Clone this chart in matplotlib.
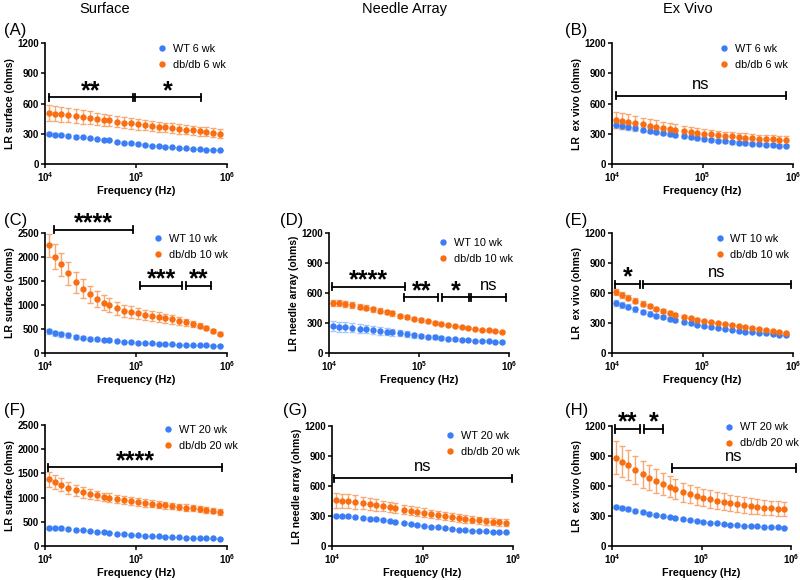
import matplotlib
matplotlib.use('Agg')
import matplotlib.pyplot as plt
from matplotlib.lines import Line2D

plt.rcParams['font.family'] = ['Liberation Sans', 'DejaVu Sans']

BLUE = '#3b7df4'
BLUE_ERR = '#a9c6f8'
ORANGE = '#fa6e12'
ORANGE_ERR = '#f8a874'

freq = [11e3, 13e3, 15e3, 18e3, 22e3, 26e3, 31e3, 37e3, 44e3, 50e3, 62e3, 74e3, 88e3,
        105e3, 125e3, 149e3, 177e3, 210e3, 250e3, 297e3, 354e3, 420e3, 500e3, 595e3, 707e3, 841e3]

# (A) surface, 6 wk
a_wt = [300, 292, 288, 280, 272, 265, 258, 248, 240, 235, 222, 212, 205, 197, 190, 183, 177, 170, 164, 160, 155, 150, 146, 142, 140, 137]
a_wt_err = [15, 14, 14, 13, 13, 12, 12, 11, 11, 11, 10, 10, 9, 9, 9, 8, 8, 8, 8, 7, 7, 7, 7, 7, 6, 6]
a_db = [504, 498, 492, 485, 475, 465, 458, 448, 440, 432, 420, 410, 402, 395, 386, 378, 370, 362, 355, 348, 340, 333, 325, 318, 310, 300]
a_db_err = [78, 75, 72, 70, 68, 66, 64, 62, 60, 58, 56, 55, 54, 53, 52, 51, 50, 49, 48, 47, 46, 46, 45, 45, 44, 44]

# (B) ex vivo, 6 wk
b_wt = [385, 375, 368, 355, 340, 330, 320, 310, 298, 290, 278, 268, 258, 250, 240, 233, 225, 218, 212, 205, 200, 195, 190, 185, 182, 178]
b_wt_err = [28, 27, 26, 25, 24, 23, 22, 21, 20, 20, 19, 18, 18, 17, 17, 16, 16, 15, 15, 15, 14, 14, 14, 13, 13, 13]
b_db = [440, 428, 420, 405, 392, 380, 370, 358, 348, 340, 328, 318, 308, 300, 293, 287, 280, 274, 268, 262, 257, 252, 248, 244, 240, 236]
b_db_err = [80, 78, 75, 72, 68, 65, 62, 58, 55, 53, 50, 48, 46, 45, 44, 43, 42, 42, 41, 41, 40, 40, 40, 40, 40, 40]

# (C) surface, 10 wk
c_wt = [450, 415, 390, 365, 335, 320, 300, 285, 270, 262, 245, 235, 225, 215, 205, 198, 190, 183, 178, 172, 168, 163, 160, 157, 153, 150]
c_wt_err = [55, 52, 50, 45, 42, 38, 35, 32, 30, 28, 26, 24, 22, 20, 19, 18, 17, 16, 15, 14, 14, 13, 13, 12, 12, 12]
c_db = [2240, 2010, 1850, 1660, 1470, 1340, 1225, 1125, 1050, 1000, 935, 875, 850, 825, 795, 770, 745, 725, 700, 670, 640, 605, 570, 520, 465, 405]
c_db_err = [245, 255, 240, 235, 220, 200, 175, 160, 150, 145, 135, 125, 120, 115, 110, 105, 100, 95, 90, 85, 75, 65, 55, 45, 40, 35]

# (D) needle array, 10 wk
d_wt = [268, 262, 258, 252, 245, 238, 230, 222, 215, 208, 198, 190, 180, 172, 165, 158, 150, 144, 138, 133, 128, 123, 120, 117, 114, 112]
d_wt_err = [50, 50, 48, 46, 44, 42, 40, 38, 35, 33, 30, 27, 25, 22, 20, 18, 16, 15, 14, 13, 12, 12, 11, 11, 10, 10]
d_db = [504, 498, 490, 478, 465, 452, 440, 425, 410, 397, 372, 358, 343, 330, 318, 305, 295, 283, 272, 262, 250, 243, 235, 228, 220, 212]
d_db_err = [30, 30, 29, 28, 27, 26, 25, 24, 23, 22, 20, 18, 17, 16, 15, 14, 13, 12, 12, 11, 11, 10, 10, 10, 10, 10]

# (E) ex vivo, 10 wk
e_wt = [500, 480, 462, 440, 412, 395, 375, 358, 340, 328, 310, 296, 282, 270, 258, 248, 238, 230, 222, 215, 208, 202, 196, 190, 185, 178]
e_wt_err = [30, 28, 26, 25, 23, 21, 20, 18, 17, 16, 15, 14, 13, 12, 12, 11, 11, 10, 10, 10, 9, 9, 9, 9, 9, 9]
e_db = [607, 580, 555, 525, 495, 470, 445, 420, 400, 385, 365, 350, 335, 322, 310, 298, 287, 277, 268, 258, 250, 240, 232, 222, 215, 200]
e_db_err = [30, 28, 26, 24, 22, 20, 18, 17, 16, 15, 14, 13, 12, 12, 11, 11, 10, 10, 10, 10, 10, 9, 9, 9, 9, 9]

# (F) surface, 20 wk
f_wt = [380, 370, 362, 350, 335, 322, 308, 295, 282, 275, 258, 245, 235, 225, 215, 205, 198, 190, 183, 177, 172, 167, 162, 158, 155, 150]
f_wt_err = [25, 24, 23, 22, 21, 20, 19, 18, 17, 16, 15, 14, 13, 12, 12, 11, 11, 10, 10, 10, 10, 9, 9, 9, 9, 9]
f_db = [1377, 1320, 1270, 1205, 1150, 1110, 1075, 1045, 1015, 1000, 965, 945, 925, 905, 885, 870, 855, 840, 825, 810, 795, 780, 765, 750, 730, 705]
f_db_err = [150, 140, 135, 125, 115, 110, 100, 95, 90, 88, 85, 82, 80, 78, 76, 74, 72, 70, 68, 66, 64, 62, 60, 58, 56, 55]

# (G) needle array, 20 wk
g_wt = [305, 300, 297, 290, 282, 275, 268, 258, 250, 243, 232, 222, 212, 205, 195, 188, 180, 172, 165, 160, 155, 150, 147, 143, 140, 137]
g_wt_err = [15, 15, 14, 14, 13, 13, 12, 12, 11, 11, 10, 10, 10, 9, 9, 9, 8, 8, 8, 8, 7, 7, 7, 7, 7, 7]
g_db = [456, 452, 448, 440, 430, 420, 410, 400, 390, 382, 365, 355, 345, 333, 320, 310, 300, 290, 280, 270, 263, 256, 250, 243, 238, 232]
g_db_err = [75, 72, 70, 67, 63, 60, 57, 54, 52, 50, 48, 46, 44, 43, 42, 41, 40, 39, 38, 37, 36, 36, 35, 35, 35, 35]

# (H) ex vivo, 20 wk
h_wt = [395, 380, 370, 355, 338, 325, 312, 298, 288, 280, 268, 258, 250, 243, 235, 228, 222, 215, 210, 205, 200, 197, 194, 191, 188, 185]
h_wt_err = [18, 17, 16, 15, 14, 13, 12, 12, 11, 11, 10, 10, 10, 9, 9, 9, 8, 8, 8, 8, 8, 8, 8, 8, 8, 8]
h_db = [884, 845, 810, 765, 720, 685, 650, 620, 592, 575, 540, 520, 500, 485, 470, 455, 445, 432, 420, 410, 400, 393, 385, 380, 375, 370]
h_db_err = [165, 155, 148, 140, 135, 128, 120, 112, 105, 100, 95, 92, 90, 88, 86, 84, 82, 80, 78, 77, 76, 75, 74, 73, 72, 72]

# significance brackets: (start Hz, end Hz, y, label)
a_sig = [(11e3, 92e3, 660, '**'), (98e3, 520e3, 660, '*')]
b_sig = [(11e3, 830e3, 676, 'ns')]
c_sig = [(12.4e3, 92e3, 2570, '****'), (112e3, 321e3, 1400, '***'), (350e3, 670e3, 1400, '**')]
d_sig = [(10.9e3, 70e3, 663, '****'), (68.6e3, 164e3, 557, '**'), (182e3, 355e3, 557, '*'), (380e3, 927e3, 557, 'ns')]
e_sig = [(10.7e3, 20.5e3, 689, '*'), (21.8e3, 955e3, 689, 'ns')]
f_sig = [(10.9e3, 889e3, 1625, '****')]
g_sig = [(10.4e3, 975e3, 678, 'ns')]
h_sig = [(10.9e3, 20.5e3, 1170, '**'), (22.9e3, 37.1e3, 1170, '*'), (46.7e3, 1.15e6, 781, 'ns')]

W, H = 800, 580


def px_axes(fig, x0, y0, x1, y1):
    return fig.add_axes([x0 / W, (H - y1) / H, (x1 - x0) / W, (y1 - y0) / H])


def panel(ax, wt, wt_err, db, db_err, age, ylabel, ymax, ystep, sigs, leg_anchor):
    ax.errorbar(freq, wt, yerr=wt_err, fmt='none', ecolor=BLUE_ERR, elinewidth=1, capsize=2.5, capthick=1, zorder=2)
    ax.errorbar(freq, db, yerr=db_err, fmt='none', ecolor=ORANGE_ERR, elinewidth=1, capsize=2.5, capthick=1, zorder=2)
    ax.plot(freq, wt, 'o', color=BLUE, ms=4.6, mec='none', zorder=3)
    ax.plot(freq, db, 'o', color=ORANGE, ms=4.6, mec='none', zorder=3)

    ax.set_xscale('log')
    ax.set_xlim(1e4, 1e6)
    ax.set_ylim(0, ymax)
    ax.set_yticks(range(0, ymax + 1, ystep))
    ax.set_xticks([1e4, 1e5, 1e6])
    ax.minorticks_off()
    for side in ['top', 'right']:
        ax.spines[side].set_visible(False)
    for side in ['left', 'bottom']:
        ax.spines[side].set_linewidth(1.2)
    ax.tick_params(length=3, width=1.1, labelsize=7, pad=1.2)
    for lab in ax.get_yticklabels() + ax.get_xticklabels():
        lab.set_fontweight('bold')
    ax.set_xlabel('Frequency (Hz)', fontsize=7.8, fontweight='bold', labelpad=1.5)
    ax.set_ylabel(ylabel, fontsize=7.5, fontweight='bold', labelpad=2)

    handles = [Line2D([], [], ls='none', marker='o', color=BLUE, ms=4.6, mec='none'),
               Line2D([], [], ls='none', marker='o', color=ORANGE, ms=4.6, mec='none')]
    ax.legend(handles, ['WT %s wk' % age, 'db/db %s wk' % age], loc='upper left',
              bbox_to_anchor=leg_anchor, frameon=False, fontsize=7.8, handlelength=1.0,
              handletextpad=0.5, labelspacing=0.55, borderpad=0, borderaxespad=0)

    cap = ymax * 0.03
    for x0, x1, y, lab in sigs:
        ax.plot([x0, x1], [y, y], color='black', lw=1.3, clip_on=False, zorder=4)
        ax.plot([x0, x0], [y - cap, y + cap], color='black', lw=1.3, clip_on=False, zorder=4)
        ax.plot([x1, x1], [y - cap, y + cap], color='black', lw=1.3, clip_on=False, zorder=4)
        xm = (x0 * x1) ** 0.5
        if lab == 'ns':
            ax.annotate(lab, (xm, y), xytext=(0, 3), textcoords='offset points',
                        ha='center', va='bottom', fontsize=12, annotation_clip=False)
        else:
            ax.annotate(lab, (xm, y), xytext=(0, -4), textcoords='offset points',
                        ha='center', va='bottom', fontsize=18, fontweight='bold', annotation_clip=False)


fig = plt.figure(figsize=(8, 5.8), dpi=100)

ax_a = px_axes(fig, 45, 43, 227, 164)
ax_b = px_axes(fig, 612, 43, 793, 164)
ax_c = px_axes(fig, 45, 233, 227, 353)
ax_d = px_axes(fig, 329, 233, 509, 353)
ax_e = px_axes(fig, 612, 233, 793, 353)
ax_f = px_axes(fig, 45, 425, 227, 546)
ax_g = px_axes(fig, 332, 426, 513, 546)
ax_h = px_axes(fig, 612, 426, 791, 546)

panel(ax_a, a_wt, a_wt_err, a_db, a_db_err, '6', 'LR surface (ohms)', 1200, 300, a_sig, (0.615, 0.99))
panel(ax_b, b_wt, b_wt_err, b_db, b_db_err, '6', 'LR  ex vivo (ohms)', 1200, 300, b_sig, (0.59, 0.99))
panel(ax_c, c_wt, c_wt_err, c_db, c_db_err, '10', 'LR surface (ohms)', 2500, 500, c_sig, (0.593, 0.99))
panel(ax_d, d_wt, d_wt_err, d_db, d_db_err, '10', 'LR needle array (ohms)', 1200, 300, d_sig, (0.606, 0.96))
panel(ax_e, e_wt, e_wt_err, e_db, e_db_err, '10', 'LR  ex vivo (ohms)', 1200, 300, e_sig, (0.564, 0.99))
panel(ax_f, f_wt, f_wt_err, f_db, f_db_err, '20', 'LR surface (ohms)', 2500, 500, f_sig, (0.648, 1.0))
panel(ax_g, g_wt, g_wt_err, g_db, g_db_err, '20', 'LR needle array (ohms)', 1200, 300, g_sig, (0.624, 0.96))
panel(ax_h, h_wt, h_wt_err, h_db, h_db_err, '20', 'LR  ex vivo (ohms)', 1200, 300, h_sig, (0.626, 1.03))

# column titles and panel letters
for x, t in [(105, 'Surface'), (405, 'Needle Array'), (688, 'Ex Vivo')]:
    fig.text(x / W, 1 - 9 / H, t, ha='center', va='center', fontsize=10.5)
for x, y, t in [(4, 31, '(A)'), (565, 31, '(B)'), (4, 220, '(C)'), (280, 220, '(D)'),
                (565, 220, '(E)'), (4, 411, '(F)'), (283, 411, '(G)'), (565, 411, '(H)')]:
    fig.text(x / W, 1 - y / H, t, ha='left', va='center', fontsize=12)

fig.savefig('out.png', dpi=100)
